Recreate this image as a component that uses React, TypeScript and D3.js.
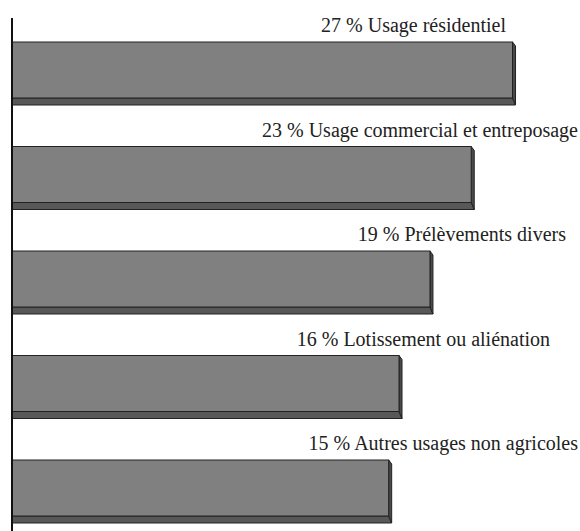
import React from "react";
import * as d3 from "d3";

const categories = [
  "Usage résidentiel",
  "Usage commercial et entreposage",
  "Prélèvements divers",
  "Lotissement ou aliénation",
  "Autres usages non agricoles",
];
const percents = [27, 23, 19, 16, 15];

// layout (label right-end positions, px)
const labelEnd = [506, 578, 566, 550, 578];

const W = 580;
const H = 531;
const axisX = 12;
const FONT = '"Liberation Serif", "Times New Roman", Times, serif';

export default function App() {
  const x = d3.scaleLinear().domain([-21.5, 30]).range([axisX, axisX + 51.5 * 10.32]);
  const y = d3
    .scaleBand<number>()
    .domain(d3.range(percents.length))
    .range([42, 42 + 104.5 * 5])
    .paddingInner(0)
    .paddingOuter(0);
  const faceH = 56;
  const dx = 3;
  const dy = 7;
  return (
    <svg
      width={W}
      height={H}
      style={{ position: "absolute", left: 0, top: 0, background: "#fff" }}
    >
      {percents.map((v, i) => {
        const x0 = axisX;
        const x1 = x(v);
        const y0 = y(i)!;
        const y1 = y0 + faceH;
        return (
          <g key={i}>
            <polygon
              points={`${x0},${y1} ${x1},${y1} ${x1 + dx},${y1 + dy} ${x0},${y1 + dy}`}
              fill="#585858"
              stroke="#222"
              strokeWidth={1}
            />
            <polygon
              points={`${x1},${y0} ${x1 + dx},${y0 + 4} ${x1 + dx},${y1 + dy} ${x1},${y1}`}
              fill="#4a4a4a"
              stroke="#222"
              strokeWidth={1}
            />
            <rect x={x0} y={y0} width={x1 - x0} height={faceH} fill="#808080" stroke="#222" strokeWidth={1} />
            <text
              x={labelEnd[i]}
              y={y0 - 10}
              textAnchor="end"
              fill="#222"
              fontFamily={FONT}
              fontSize={20}
            >
              {`${v} % ${categories[i]}`}
            </text>
          </g>
        );
      })}
      <line x1={axisX} x2={axisX} y1={18} y2={H} stroke="#111" strokeWidth={2} />
    </svg>
  );
}
